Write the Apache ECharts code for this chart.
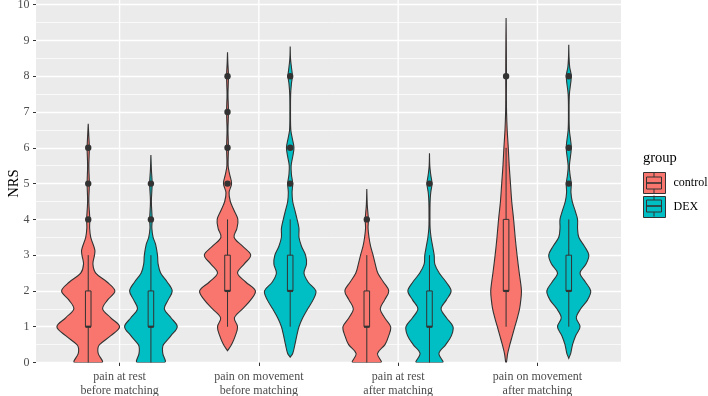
<!DOCTYPE html>
<html>
<head>
<meta charset="utf-8">
<script src="https://cdn.jsdelivr.net/npm/echarts@6/dist/echarts.min.js"></script>
<style>
  html, body { margin: 0; padding: 0; background: #fff; }
  #main { width: 708px; height: 396px; }
</style>
</head>
<body>
<div id="main"></div>
<script>
// 类别（x轴）
var categories = [
  'pain at rest\nbefore matching',
  'pain on movement\nbefore matching',
  'pain at rest\nafter matching',
  'pain on movement\nafter matching'
];
var yTicks = [0, 1, 2, 3, 4, 5, 6, 7, 8, 9, 10];

// 小提琴密度轮廓 [NRS, 相对宽度]
var controlDensity = [
  [[0, .44], [.25, .32], [.4, .31], [.5, .36], [.75, .72], [1, 1], [1.25, .72], [1.5, .46], [1.75, .62], [2, .85], [2.25, .6], [2.5, .24], [2.75, .15], [3, .2], [3.15, .21], [3.5, .08], [3.75, .045], [4, .05], [4.5, .02], [5, .035], [5.5, .02], [6, .035], [6.4, .015], [6.67, 0]],
  [[.33, 0], [.5, .13], [.75, .25], [1, .32], [1.25, .22], [1.5, .48], [1.75, .74], [2, .89], [2.25, .58], [2.5, .32], [2.75, .53], [3, .74], [3.25, .48], [3.5, .21], [3.75, .3], [4, .33], [4.25, .21], [4.5, .09], [4.75, .05], [5, .13], [5.25, .07], [5.5, .02], [6, .03], [6.5, .015], [7, .03], [7.5, .015], [8, .03], [8.4, .01], [8.67, 0]],
  [[0, .45], [.25, .34], [.5, .58], [.75, .7], [1, .76], [1.25, .57], [1.5, .43], [1.75, .57], [2, .7], [2.25, .53], [2.5, .35], [2.75, .27], [3, .2], [3.25, .12], [3.5, .07], [3.75, .04], [4, .05], [4.4, .015], [4.85, 0]],
  [[0, .01], [.25, .05], [.5, .12], [.75, .2], [1, .28], [1.25, .36], [1.5, .43], [1.75, .47], [2, .49], [2.25, .46], [2.5, .42], [3, .35], [3.5, .29], [4, .24], [4.5, .18], [5, .14], [5.5, .1], [6, .07], [6.5, .035], [7, .015], [7.5, .01], [8, .012], [9, .006], [9.63, 0]]
];
var dexDensity = [
  [[0, .44], [.25, .38], [.4, .37], [.5, .4], [.75, .64], [1, .84], [1.25, .64], [1.5, .43], [1.75, .55], [2, .68], [2.25, .52], [2.5, .31], [2.75, .23], [3, .21], [3.3, .15], [3.5, .07], [3.75, .03], [4, .04], [4.5, .015], [5, .04], [5.4, .015], [5.8, 0]],
  [[.15, 0], [.25, .08], [.5, .15], [.75, .21], [1, .28], [1.25, .4], [1.5, .56], [1.75, .73], [2, .82], [2.25, .57], [2.5, .44], [2.75, .52], [3, .49], [3.25, .36], [3.5, .28], [3.75, .28], [4, .22], [4.25, .15], [4.5, .08], [4.75, .06], [5, .08], [5.25, .04], [5.5, .03], [5.75, .08], [6, .12], [6.25, .07], [6.5, .02], [7, .01], [7.5, .015], [7.8, .04], [8, .07], [8.25, .04], [8.5, .01], [8.83, 0]],
  [[0, .42], [.25, .3], [.5, .52], [.75, .7], [1, .75], [1.25, .54], [1.5, .37], [1.75, .54], [2, .69], [2.25, .53], [2.5, .31], [2.75, .17], [3, .15], [3.25, .1], [3.5, .05], [3.75, .02], [4, .015], [4.5, .02], [4.75, .04], [5, .08], [5.25, .04], [5.5, .01], [5.85, 0]],
  [[.12, 0], [.25, .06], [.5, .12], [.75, .22], [1, .36], [1.25, .24], [1.5, .38], [1.75, .6], [2, .7], [2.25, .53], [2.5, .36], [2.75, .55], [3, .64], [3.25, .5], [3.5, .32], [3.75, .28], [4, .28], [4.25, .2], [4.5, .11], [4.75, .07], [5, .08], [5.25, .04], [5.5, .02], [6, .08], [6.5, .02], [7, .01], [7.5, .02], [8, .08], [8.25, .03], [8.5, .01], [8.88, 0]]
];

// 箱线图 [下须, Q1, 中位数, Q3, 上须]
var controlBox = [[0, 1, 1, 2, 3], [1, 2, 2, 3, 4], [0, 1, 1, 2, 3], [1, 2, 2, 4, 6]];
var dexBox = [[0, 1, 1, 2, 3], [1, 2, 2, 3, 4], [0, 1, 1, 2, 3], [1, 2, 2, 3, 4]];

// 离群点
var controlOutliers = [[4, 5, 6], [5, 6, 7, 8], [4], [8]];
var dexOutliers = [[4, 5], [5, 6, 8], [5], [5, 6, 8]];

(function () {
  var myChart = echarts.init(document.getElementById('main'));
  var FONT = "'Liberation Serif', 'DejaVu Serif', serif";
  var LINE = '#333333';
  var colors = { control: '#F8766D', DEX: '#00BFC4' };
  var DODGE = 0.225;   // 每组偏移
  var BOX_W = 0.04;    // 箱体宽度
  var catIdx = categories.map(function (c, i) { return [i + 1]; });

  // 小提琴
  function violinSeries(name, dens, off) {
    return {
      name: name,
      type: 'custom',
      z: 2,
      clip: true,
      itemStyle: { color: colors[name] },
      encode: { x: 0 },
      data: catIdx,
      renderItem: function (params, api) {
        var prof = dens[params.dataIndex];
        var cat = api.value(0);
        var cx = api.coord([cat + off, 0])[0];
        var hw = api.size([DODGE, 0])[0];
        var right = [], left = [];
        prof.forEach(function (p) {
          var y = api.coord([cat, p[0]])[1];
          right.push([cx + p[1] * hw, y]);
          left.unshift([cx - p[1] * hw, y]);
        });
        var pts = right.concat(left);
        var y0 = api.coord([cat, prof[0][0]])[1];
        var yt = api.coord([cat, prof[prof.length - 1][0]])[1];
        return {
          type: 'polygon',
          shape: {
            points: pts,
            smooth: 0.35,
            smoothConstraint: [[cx - hw, yt], [cx + hw, y0]]
          },
          style: { fill: colors[name], stroke: LINE, lineWidth: 1.1 }
        };
      }
    };
  }

  // 箱线图
  function boxSeries(name, box, off) {
    return {
      name: name + ' box',
      type: 'custom',
      z: 3,
      encode: { x: 0 },
      data: catIdx,
      renderItem: function (params, api) {
        var b = box[params.dataIndex];
        var cat = api.value(0);
        var cx = api.coord([cat + off, 0])[0];
        var w = api.size([BOX_W, 0])[0];
        var p = b.map(function (v) { return api.coord([cat, v])[1]; });
        return {
          type: 'group',
          children: [
            { type: 'line', shape: { x1: cx, y1: p[0], x2: cx, y2: p[4] }, style: { stroke: LINE, lineWidth: 1 } },
            { type: 'rect', shape: { x: cx - w / 2, y: p[3], width: w, height: p[1] - p[3] }, style: { fill: colors[name], stroke: LINE, lineWidth: 1 } },
            { type: 'line', shape: { x1: cx - w / 2, y1: p[2], x2: cx + w / 2, y2: p[2] }, style: { stroke: LINE, lineWidth: 2.2 } }
          ]
        };
      }
    };
  }

  // 离群点
  function outlierSeries(name, outs, off) {
    return {
      name: name + ' outliers',
      type: 'custom',
      z: 4,
      encode: { x: 0 },
      data: catIdx,
      renderItem: function (params, api) {
        var cat = api.value(0);
        var cx = api.coord([cat + off, 0])[0];
        return {
          type: 'group',
          children: outs[params.dataIndex].map(function (v) {
            return { type: 'circle', shape: { cx: cx, cy: api.coord([cat, v])[1], r: 3.2 }, style: { fill: LINE } };
          })
        };
      }
    };
  }

  // 竖向网格线
  var gridXSeries = {
    name: 'gridX',
    type: 'custom',
    z: 1,
    silent: true,
    encode: { x: 0 },
    data: catIdx,
    renderItem: function (params, api) {
      var x = api.coord([api.value(0), 0])[0];
      var cs = params.coordSys;
      return {
        type: 'line',
        shape: { x1: x, y1: cs.y - 5, x2: x, y2: cs.y + cs.height },
        style: { stroke: '#ffffff', lineWidth: 1.4 }
      };
    }
  };

  // 图例中的箱线图示意
  function keyMarks(top) {
    var s = { stroke: LINE, lineWidth: 1 };
    return [
      { type: 'line', z: 100, shape: { x1: 654, y1: top, x2: 654, y2: top + 4.5 }, style: s },
      { type: 'rect', z: 100, shape: { x: 646.5, y: top + 4.5, width: 15, height: 12 }, style: { fill: 'none', stroke: LINE, lineWidth: 1 } },
      { type: 'line', z: 100, shape: { x1: 646.5, y1: top + 10.5, x2: 661.5, y2: top + 10.5 }, style: { stroke: LINE, lineWidth: 1.6 } },
      { type: 'line', z: 100, shape: { x1: 654, y1: top + 16.5, x2: 654, y2: top + 21 }, style: s }
    ];
  }

  var option = {
    animation: false,
    grid: {
      left: 36, right: 87, top: 4.7, bottom: 33.5,
      outerBoundsMode: 'none',
      show: true, backgroundColor: '#EBEBEB', borderWidth: 0
    },
    legend: {
      data: ['control', 'DEX'],
      orient: 'vertical',
      left: 643, top: 172,
      padding: 0,
      itemWidth: 22, itemHeight: 21, itemGap: 2,
      icon: 'rect',
      itemStyle: { borderColor: LINE, borderWidth: 1 },
      textStyle: { fontFamily: FONT, fontSize: 12, color: '#000', padding: [0, 0, 0, 3] },
      selectedMode: false
    },
    xAxis: {
      type: 'value',
      min: 0.4, max: 4.6,
      splitLine: { show: false },
      axisLine: { show: false },
      axisTick: { show: true, length: 3.5, customValues: [1, 2, 3, 4], lineStyle: { color: LINE } },
      axisLabel: {
        customValues: [1, 2, 3, 4],
        formatter: function (v) { return categories[Math.round(v) - 1] || ''; },
        fontFamily: FONT, fontSize: 12, color: '#4D4D4D', lineHeight: 14, margin: 7
      }
    },
    yAxis: {
      type: 'value',
      min: 0, max: 10, interval: 1,
      name: 'NRS',
      nameLocation: 'middle',
      nameRotate: 90,
      nameGap: 14,
      nameMoveOverlap: false,
      nameTextStyle: { fontFamily: FONT, fontSize: 14.5, color: '#000' },
      axisLine: { show: false },
      axisTick: { show: true, length: 3, lineStyle: { color: LINE } },
      axisLabel: { fontFamily: FONT, fontSize: 12, color: '#4D4D4D', margin: 6.5 },
      splitLine: { lineStyle: { color: '#ffffff', width: 1.4 } },
      minorTick: { show: false, splitNumber: 2 },
      minorSplitLine: { show: true, lineStyle: { color: '#ffffff', width: 0.7 } }
    },
    graphic: [
      { type: 'rect', z: -1, shape: { x: 36, y: 0, width: 585, height: 5 }, style: { fill: '#EBEBEB' } },
      { type: 'text', left: 643, top: 151, style: { text: 'group', font: '14.5px ' + FONT, fill: '#000' } }
    ].concat(keyMarks(172.5), keyMarks(195.5)),
    series: [
      gridXSeries,
      violinSeries('control', controlDensity, -DODGE),
      violinSeries('DEX', dexDensity, DODGE),
      boxSeries('control', controlBox, -DODGE),
      boxSeries('DEX', dexBox, DODGE),
      outlierSeries('control', controlOutliers, -DODGE),
      outlierSeries('DEX', dexOutliers, DODGE)
    ]
  };

  myChart.setOption(option);
  window.addEventListener('resize', () => myChart.resize());
})();
</script>
</body>
</html>
